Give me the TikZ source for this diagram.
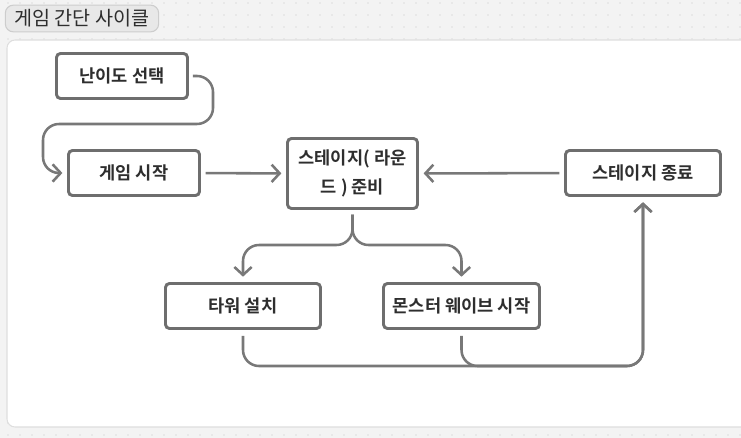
\documentclass[tikz,border=0pt]{standalone}
\usepackage{fontspec}
\setmainfont{Noto Sans CJK KR}[BoldFont={Noto Sans CJK KR Bold}]
\usetikzlibrary{arrows.meta,positioning}
\definecolor{bggray}{HTML}{F3F3F3}
\definecolor{dotgray}{HTML}{C4C4C4}
\definecolor{panelline}{HTML}{DEDEDE}
\definecolor{taggray}{HTML}{E8E8E8}
\definecolor{tagline}{HTML}{CDCDCD}
\definecolor{boxgray}{HTML}{6E6E6E}
\definecolor{linegray}{HTML}{787878}
\definecolor{txtgray}{HTML}{2E2E2E}

\tikzset{
  stagebox/.style={draw=boxgray, line width=2.2pt, rounded corners=3pt, fill=white,
    text=txtgray, align=center, minimum height=33.75pt,
    font=\fontsize{13.2}{22}\selectfont\bfseries},
  flow/.style={draw=linegray, line width=1.9pt, rounded corners=12pt,
    -{Straight Barb[length=6pt,width=13pt]}},
  tag/.style={draw=tagline, fill=taggray, rounded corners=6pt, line width=0.8pt,
    minimum width=115pt, minimum height=20pt, text=txtgray,
    font=\fontsize{14.7}{16}\selectfont}
}

\begin{document}
\begin{tikzpicture}[x=0.75pt,y=-0.75pt]
  \useasboundingbox (0,0) rectangle (741,438);
  \clip (0,0) rectangle (741,438);
  % background with dots
  \fill[bggray] (0,0) rectangle (741,438);
  \foreach \x in {8,20,...,740}
    \foreach \y in {3,15,...,437}
      \fill[dotgray] (\x,\y) circle (0.5pt);
  \draw[panelline, fill=white, rounded corners=6pt, line width=0.8pt] (7,40) rectangle (760,427);

  % title
  \node[tag] (title) at (82,18.5) {게임 간단 사이클};

  % stages
  \node[stagebox, minimum width=98.25pt] (diff) at (122,76) {난이도 선택};
  \node[stagebox, minimum width=98.25pt] (start) at (134,173) {게임 시작};
  \node[stagebox, minimum width=97.5pt, minimum height=52.5pt] (prep) at (352.5,173.5) {스테이지( 라운\\드 ) 준비};
  \node[stagebox, minimum width=116.25pt] (endst) at (643,173) {스테이지 종료};
  \node[stagebox, minimum width=116.25pt] (tower) at (243,306) {타워 설치};
  \node[stagebox, minimum width=117pt] (wave) at (461.5,306) {몬스터 웨이브 시작};

  % connectors
  \coordinate (bend) at (213,124);
  \coordinate (split) at (352.5,245);
  \coordinate (loop) at (643,366);
  \draw[flow, shorten <=3pt, shorten >=3.5pt] (diff.east) -| (bend) -| (43,173) -- (start.west);
  \draw[flow, shorten <=3.5pt, shorten >=3.5pt] (start) -- (prep);
  \draw[flow, shorten <=3.5pt, shorten >=3.5pt] (endst) -- (prep);
  \draw[flow, shorten <=3.5pt, shorten >=4pt] (prep.south) -- (split) -| (tower.north);
  \draw[flow, shorten <=3.5pt, shorten >=4pt] (prep.south) -- (split) -| (wave.north);
  \draw[flow, shorten <=4.5pt, shorten >=4pt] (tower.south) |- (loop) -- (endst.south);
  \draw[flow, shorten <=4.5pt, shorten >=4pt] (wave.south) |- (loop) -- (endst.south);
\end{tikzpicture}
\end{document}
